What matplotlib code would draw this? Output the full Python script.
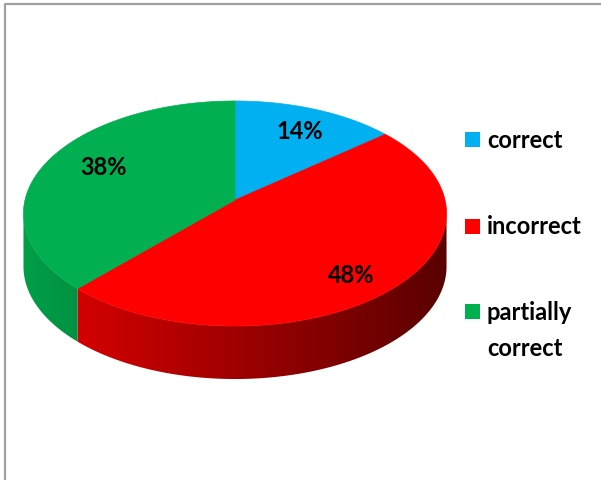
import numpy as np
import matplotlib.pyplot as plt
from matplotlib.patches import Polygon, Rectangle
from matplotlib.colors import to_rgb

labels = ['correct', 'incorrect', 'partially\ncorrect']
shares = [14, 48, 38]
colors = ['#00B0F0', '#FF0000', '#00B050']

plt.rcParams['font.family'] = ['Lato', 'DejaVu Sans']

fig = plt.figure(figsize=(6.01, 4.81), dpi=100)
ax = fig.add_axes([0, 0, 1, 1])
ax.set_xlim(0, 601)
ax.set_ylim(481, 0)
ax.axis('off')

# frame (only top and left edges show)
ax.plot([5, 5, 601], [481, 4.5, 4.5], color='#a0a0a0', lw=1.6, solid_capstyle='butt')

# pie disc seen in perspective: centre, half width, half height, foreshortening, thickness
cx, cy, A, B, k, depth = 235, 201, 210, 110.9, 0.12, 53


def proj(theta, dy=0.0):
    # theta measured clockwise from 12 o'clock
    u, v = np.sin(theta), np.cos(theta)
    w = 1 + k * v
    return cx + A * u / w, cy - B * v / w + dy


fracs = np.array(shares) / sum(shares)
bounds = 2 * np.pi * np.concatenate([[0], np.cumsum(fracs)])

# left/right silhouette of the disc
t_lo = np.arccos(-k)
t_hi = 2 * np.pi - t_lo
x_left, _ = proj(t_hi)
x_right, _ = proj(t_lo)

# side wall shading: light on the left, dark on the right
ncol = 400
s = np.linspace(0, 1, ncol)
shade = 0.9 - 0.55 * s

for i in range(len(shares)):
    t0, t1 = max(bounds[i], t_lo), min(bounds[i + 1], t_hi)
    if t1 <= t0:
        continue
    ts = np.linspace(t0, t1, 200)
    xs, ys = proj(ts)
    xb, yb = proj(ts[::-1], depth)
    verts = list(zip(xs, ys)) + list(zip(xb, yb))
    wall = Polygon(verts, closed=True, fc='none', ec='none')
    ax.add_patch(wall)
    base = np.array(to_rgb(colors[i]))
    img = (shade[:, None] * base[None, :])[None, :, :]
    im = ax.imshow(img, extent=(x_left, x_right, 400, 90), aspect='auto',
                   interpolation='bilinear', zorder=1)
    im.set_clip_path(wall)

# top face
for i in range(len(shares)):
    ts = np.linspace(bounds[i], bounds[i + 1], 300)
    xs, ys = proj(ts)
    verts = [(cx, cy)] + list(zip(xs, ys))
    ax.add_patch(Polygon(verts, closed=True, fc=colors[i], ec=colors[i],
                         lw=0.5, zorder=2))

# percentage labels
label_xy = [(300, 132), (351, 276), (104, 168)]
for (x, y), v in zip(label_xy, shares):
    ax.text(x, y, f'{v}%', ha='center', va='center', fontsize=17,
            fontweight='bold', color='black', zorder=3)

# legend
legend_y = [140.5, 227, 312.5]
for y, lab, c in zip(legend_y, labels, colors):
    ax.add_patch(Rectangle((465, y - 7.5), 15, 15, fc=c, ec='none'))
    for j, line in enumerate(lab.split('\n')):
        ax.text(487, y + 36 * j, line, ha='left', va='center', fontsize=17,
                fontweight='bold', color='black')

ax.set_xlim(0, 601)
ax.set_ylim(481, 0)
fig.savefig('out.png', dpi=100)
